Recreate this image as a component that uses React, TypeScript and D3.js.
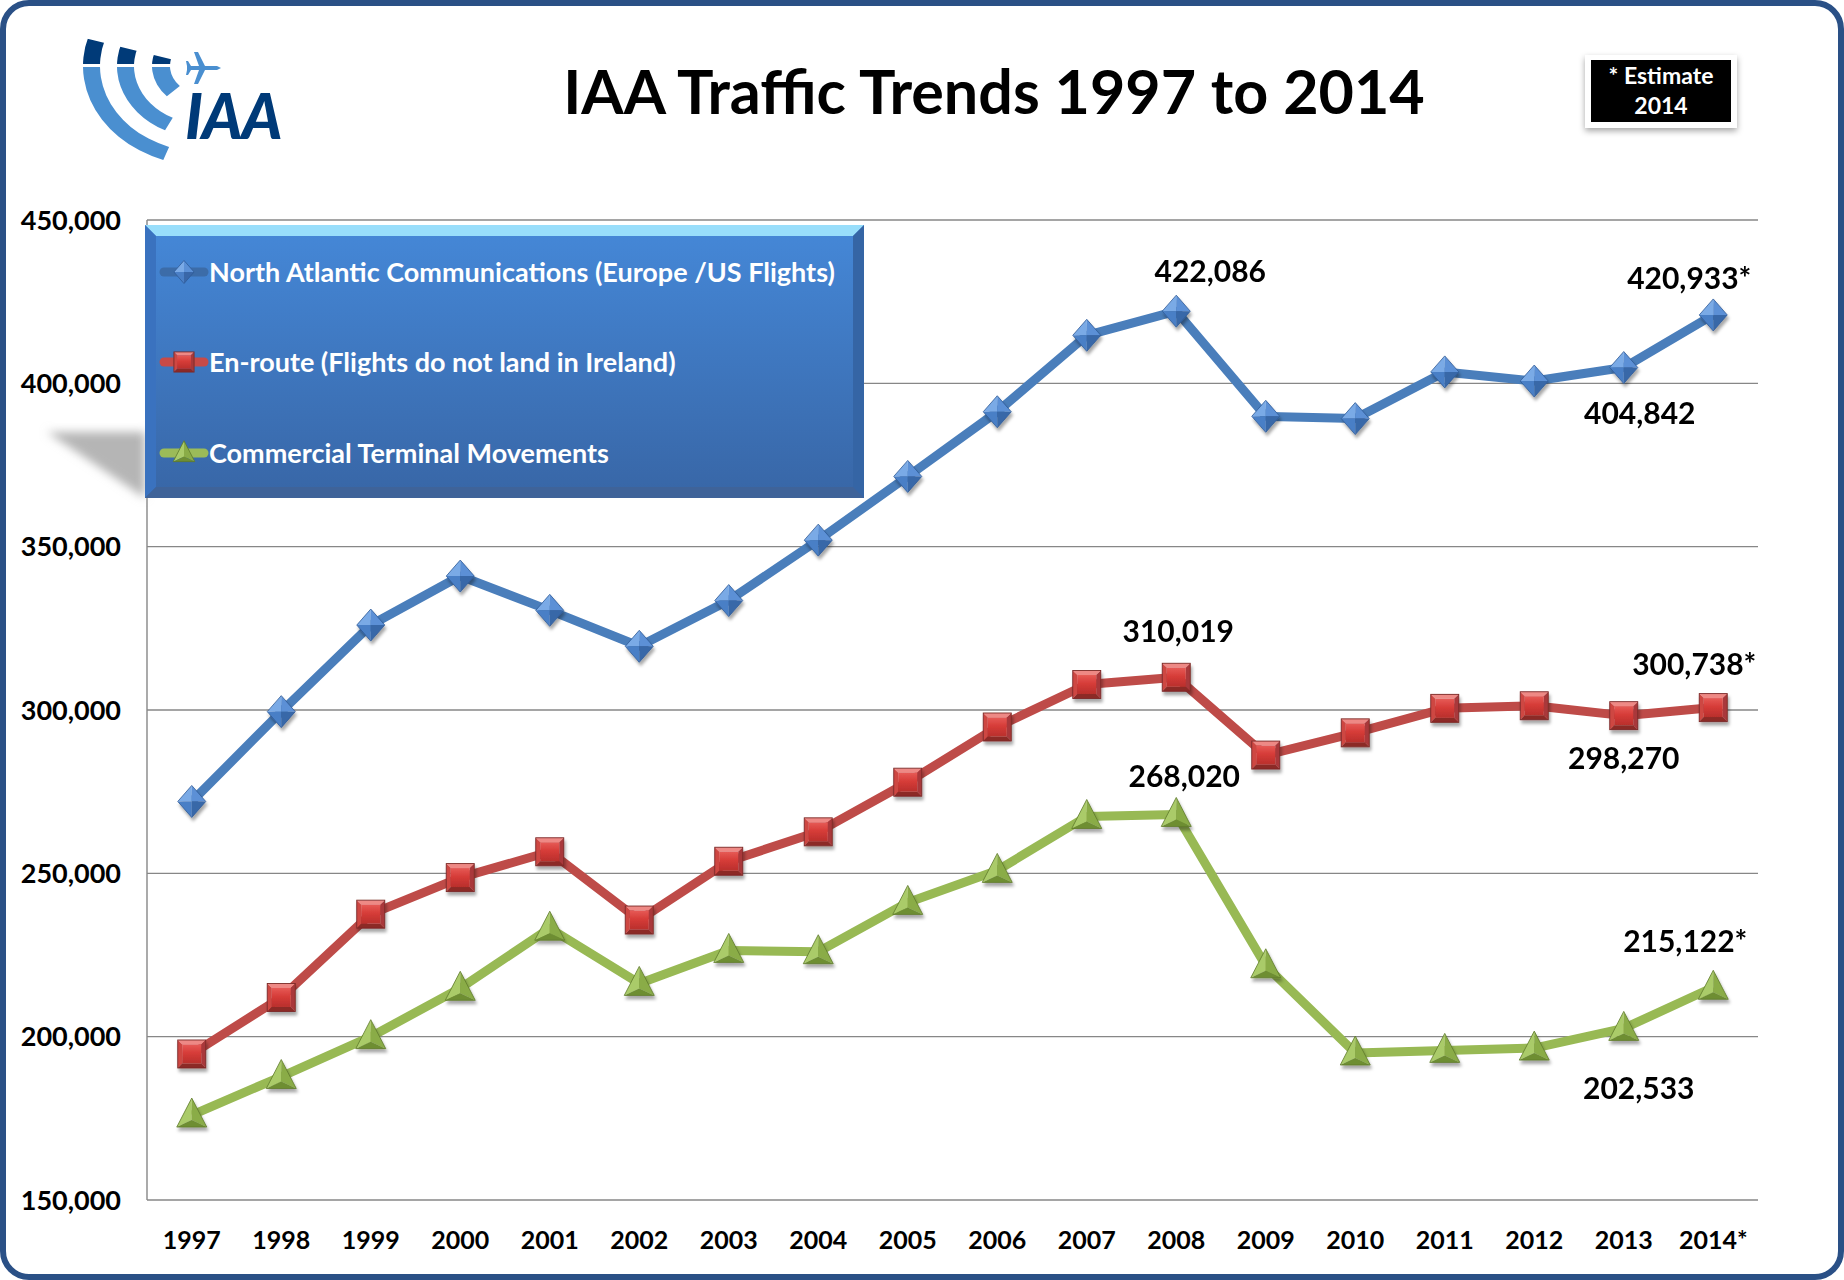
import * as d3 from "d3";

// tick labels / categories
const years = ["1997", "1998", "1999", "2000", "2001", "2002", "2003", "2004", "2005", "2006", "2007", "2008", "2009", "2010", "2011", "2012", "2013", "2014"];
const yearLabels = ["1997", "1998", "1999", "2000", "2001", "2002", "2003", "2004", "2005", "2006", "2007", "2008", "2009", "2010", "2011", "2012", "2013", "2014*"];
const yTicks = [150000, 200000, 250000, 300000, 350000, 400000, 450000];

// series values
const northAtlantic = [272000, 299500, 326000, 341000, 330500, 319500, 333500, 352000, 371500, 391300, 414700, 422086, 389900, 389200, 403500, 400700, 404842, 420933];
const enRoute = [194700, 212000, 237500, 248700, 256600, 235700, 253700, 262700, 277900, 294800, 307800, 310019, 286200, 293000, 300500, 301300, 298270, 300738];
const terminal = [176000, 187800, 200000, 214800, 233200, 216300, 226400, 226000, 241100, 250900, 267400, 268020, 221700, 195000, 195800, 196500, 202533, 215122];

const seriesNames = [
  "North Atlantic Communications (Europe /US Flights)",
  "En-route (Flights do not land in Ireland)",
  "Commercial Terminal Movements",
];

// which points get a value callout (series index, year), and where the text sits
const callouts = [
  { s: 0, year: "2008", dx: 34, dy: -29 },
  { s: 0, year: "2013", dx: 16, dy: 56 },
  { s: 0, year: "2014", dx: -24, dy: -26 },
  { s: 1, year: "2008", dx: 2, dy: -35 },
  { s: 1, year: "2013", dx: 0, dy: 53 },
  { s: 1, year: "2014", dx: -19, dy: -33 },
  { s: 2, year: "2008", dx: 8, dy: -27 },
  { s: 2, year: "2013", dx: 15, dy: 71 },
  { s: 2, year: "2014", dx: -28, dy: -35 },
];

const W = 1844;
const H = 1280;
const FONT = "Lato, 'Open Sans', sans-serif";

const margin = { top: 220, right: 86, bottom: 80, left: 147 };

function Diamond({ s = 1 }: { s?: number }) {
  const w = 14 * s, h = 16 * s;
  return (
    <g>
      <polygon points={`0,${-h} ${-w},0 0,0`} fill="#7AAAE6" />
      <polygon points={`0,${-h} ${w},0 0,0`} fill="#5B90D6" />
      <polygon points={`${-w},0 0,${h} 0,0`} fill="#4A7FC6" />
      <polygon points={`${w},0 0,${h} 0,0`} fill="#3967A8" />
      <polygon points={`0,${-h} ${w},0 0,${h} ${-w},0`} fill="none" stroke="#2F5B97" strokeWidth={0.8} />
    </g>
  );
}

function Square({ s = 1 }: { s?: number }) {
  const a = 14 * s, b = 9.5 * s;
  return (
    <g>
      <polygon points={`${-a},${-a} ${a},${-a} ${b},${-b} ${-b},${-b}`} fill="#EE8985" />
      <polygon points={`${-a},${-a} ${-b},${-b} ${-b},${b} ${-a},${a}`} fill="#CE4743" />
      <polygon points={`${a},${-a} ${a},${a} ${b},${b} ${b},${-b}`} fill="#A9393A" />
      <polygon points={`${-a},${a} ${-b},${b} ${b},${b} ${a},${a}`} fill="#8C2926" />
      <rect x={-b} y={-b} width={2 * b} height={2 * b} fill="url(#sqFace)" />
      <rect x={-a} y={-a} width={2 * a} height={2 * a} fill="none" stroke="#7C2A28" strokeWidth={0.9} />
    </g>
  );
}

function Triangle({ s = 1 }: { s?: number }) {
  const t = -17 * s, b = 12 * s, w = 15 * s, m = 5 * s;
  return (
    <g>
      <polygon points={`0,${t} ${-w},${b} 0,${m}`} fill="#AACB69" />
      <polygon points={`0,${t} 0,${m} ${w},${b}`} fill="#8AAC47" />
      <polygon points={`${-w},${b} ${w},${b} 0,${m}`} fill="#6E8E33" />
      <polygon points={`0,${t} ${w},${b} ${-w},${b}`} fill="none" stroke="#5E7A2B" strokeWidth={0.8} />
    </g>
  );
}

const series = [
  { name: seriesNames[0], values: northAtlantic, color: "#4A7EBB", legendLine: "#3C6CA8", Marker: Diamond },
  { name: seriesNames[1], values: enRoute, color: "#BE4B48", legendLine: "#C84A47", Marker: Square },
  { name: seriesNames[2], values: terminal, color: "#98B954", legendLine: "#9BBB59", Marker: Triangle },
];

function Logo() {
  const arcs = [
    { r0: 105, r1: 122, end: 200 },
    { r0: 71, r1: 88, end: 207 },
    { r0: 35, r1: 53, end: 226 },
  ];
  const rad = (deg: number) => (deg * Math.PI) / 180;
  const arcGen = d3.arc<{ r0: number; r1: number; end: number }>()
    .innerRadius((d) => d.r0)
    .outerRadius((d) => d.r1)
    .startAngle((d) => rad(d.end))
    .endAngle(rad(300));
  const bands = (fill: string) => (
    <g transform="translate(205,66) scale(1,0.82)">
      {arcs.map((a, i) => (
        <path key={i} d={arcGen(a) ?? ""} fill={fill} />
      ))}
    </g>
  );
  return (
    <g>
      <defs>
        <clipPath id="logoDark">
          <polygon points="60,32 215,70 215,64 60,64" />
        </clipPath>
        <clipPath id="logoLight">
          <rect x={60} y={67} width={160} height={120} />
        </clipPath>
      </defs>
      <g clipPath="url(#logoDark)">{bands("#003A78")}</g>
      <g clipPath="url(#logoLight)">{bands("#4A8FD0")}</g>
      <path
        transform="translate(203,68)"
        d="M18,0 L14,-2 L2,-2 L-5,-16 L-9,-16 L-4,-2 L-12,-2 L-15,-7 L-17,-7 L-16,-2 L-16,2 L-17,7 L-15,7 L-12,2 L-4,2 L-9,16 L-5,16 L2,2 L14,2 Z"
        fill="#4A8FD0"
      />
      <text x={185} y={139} fontFamily={FONT} fontWeight={900} fontStyle="italic" fontSize={62} fill="#003A78" letterSpacing={-1}>
        IAA
      </text>
    </g>
  );
}

export default function App() {
  const x = d3.scaleBand<string>().domain(years).range([margin.left, W - margin.right]);
  const cx = (yr: string) => (x(yr) ?? 0) + x.bandwidth() / 2;
  const y = d3.scaleLinear().domain([150000, 450000]).range([H - margin.bottom, margin.top]);
  const line = d3.line<number>().x((_, i) => cx(years[i])).y((d) => y(d));
  const fmt = d3.format(",");

  const [x0, x1] = x.range();

  const legend = { x: 145, y: 225, w: 719, h: 273, bev: 11 };
  const legendRows = [272, 362, 453];

  return (
    <>
      <style>{"body{margin:0}"}</style>
      <svg width={W} height={H} viewBox={`0 0 ${W} ${H}`} style={{ display: "block" }}>
        <defs>
          <linearGradient id="legendFill" x1="0" y1="0" x2="0" y2="1">
            <stop offset="0%" stopColor="#4588D8" />
            <stop offset="100%" stopColor="#3866A6" />
          </linearGradient>
          <linearGradient id="sqFace" x1="0" y1="0" x2="0" y2="1">
            <stop offset="0%" stopColor="#E65A56" />
            <stop offset="45%" stopColor="#D63C38" />
            <stop offset="100%" stopColor="#B92F2C" />
          </linearGradient>
          <filter id="markShadow" x="-50%" y="-50%" width="200%" height="200%">
            <feDropShadow dx={1.5} dy={3.5} stdDeviation={1.6} floodColor="#000" floodOpacity={0.35} />
          </filter>
          <filter id="softBlur" x="-30%" y="-30%" width="160%" height="160%">
            <feGaussianBlur stdDeviation={5} />
          </filter>
          <filter id="boxShadow" x="-20%" y="-20%" width="140%" height="160%">
            <feDropShadow dx={0} dy={3} stdDeviation={3} floodColor="#000" floodOpacity={0.35} />
          </filter>
        </defs>

        {/* frame */}
        <rect x={3} y={3} width={W - 6} height={H - 6} rx={26} fill="#fff" stroke="#2A5086" strokeWidth={6} />

        <Logo />

        <text x={994} y={114} textAnchor="middle" fontFamily={FONT} fontWeight={700} fontSize={61} fill="#000">
          IAA Traffic Trends 1997 to 2014
        </text>

        {/* estimate note */}
        <g>
          <rect x={1585} y={55} width={152} height={73} fill="#fff" filter="url(#boxShadow)" />
          <rect x={1591} y={60} width={140} height={62} fill="#000" />
          <text x={1661} y={84} textAnchor="middle" fontFamily={FONT} fontWeight={700} fontSize={23} fill="#fff">
            * Estimate
          </text>
          <text x={1661} y={114} textAnchor="middle" fontFamily={FONT} fontWeight={700} fontSize={23} fill="#fff">
            2014
          </text>
        </g>

        {/* grid + axes */}
        {yTicks.map((t) => (
          <g key={t}>
            <line x1={x0} x2={x1} y1={y(t)} y2={y(t)} stroke="#878787" strokeWidth={1.4} />
            <text x={121} y={y(t)} dy="0.36em" textAnchor="end" fontFamily={FONT} fontWeight={700} fontSize={27} fill="#000">
              {fmt(t)}
            </text>
          </g>
        ))}
        <line x1={x0} x2={x0} y1={y(450000)} y2={y(150000)} stroke="#878787" strokeWidth={1.4} />
        {years.map((yr, i) => (
          <text key={yr} x={cx(yr)} y={1249} textAnchor="middle" fontFamily={FONT} fontWeight={700} fontSize={25} fill="#000">
            {yearLabels[i]}
          </text>
        ))}

        {/* series */}
        {series.map((s) => (
          <path key={s.name} d={line(s.values) ?? ""} fill="none" stroke={s.color} strokeWidth={9} strokeLinejoin="round" />
        ))}
        {series.map((s) => (
          <g key={s.name + "-m"} filter="url(#markShadow)">
            {s.values.map((v, i) => (
              <g key={i} transform={`translate(${cx(years[i])},${y(v)})`}>
                <s.Marker />
              </g>
            ))}
          </g>
        ))}

        {/* value callouts */}
        {callouts.map((c, i) => {
          const idx = years.indexOf(c.year);
          const v = series[c.s].values[idx];
          const star = c.year === "2014" ? "*" : "";
          return (
            <text key={i} x={cx(c.year) + c.dx} y={y(v) + c.dy} textAnchor="middle" fontFamily={FONT} fontWeight={700} fontSize={30} fill="#000">
              {fmt(v) + star}
            </text>
          );
        })}

        {/* legend */}
        <polygon points="47,432 145,432 145,498" fill="#b5b5b5" filter="url(#softBlur)" />
        <g>
          <rect x={legend.x} y={legend.y} width={legend.w} height={legend.h} fill="url(#legendFill)" />
          <polygon
            points={`${legend.x},${legend.y} ${legend.x + legend.w},${legend.y} ${legend.x + legend.w - legend.bev},${legend.y + legend.bev} ${legend.x + legend.bev},${legend.y + legend.bev}`}
            fill="#98DEFB"
          />
          <polygon
            points={`${legend.x},${legend.y} ${legend.x + legend.bev},${legend.y + legend.bev} ${legend.x + legend.bev},${legend.y + legend.h - legend.bev} ${legend.x},${legend.y + legend.h}`}
            fill="#3A72BF"
          />
          <polygon
            points={`${legend.x + legend.w},${legend.y} ${legend.x + legend.w},${legend.y + legend.h} ${legend.x + legend.w - legend.bev},${legend.y + legend.h - legend.bev} ${legend.x + legend.w - legend.bev},${legend.y + legend.bev}`}
            fill="#3565A5"
          />
          <polygon
            points={`${legend.x},${legend.y + legend.h} ${legend.x + legend.bev},${legend.y + legend.h - legend.bev} ${legend.x + legend.w - legend.bev},${legend.y + legend.h - legend.bev} ${legend.x + legend.w},${legend.y + legend.h}`}
            fill="#3F6399"
          />
          {series.map((s, i) => (
            <g key={s.name + "-leg"}>
              <line x1={164} x2={204} y1={legendRows[i]} y2={legendRows[i]} stroke={s.legendLine} strokeWidth={9} strokeLinecap="round" />
              <g transform={`translate(184,${legendRows[i]})`}>
                <s.Marker s={0.72} />
              </g>
              <text x={209} y={legendRows[i]} dy="0.36em" fontFamily={FONT} fontWeight={700} fontSize={27} fill="#fff">
                {s.name}
              </text>
            </g>
          ))}
        </g>
      </svg>
    </>
  );
}
